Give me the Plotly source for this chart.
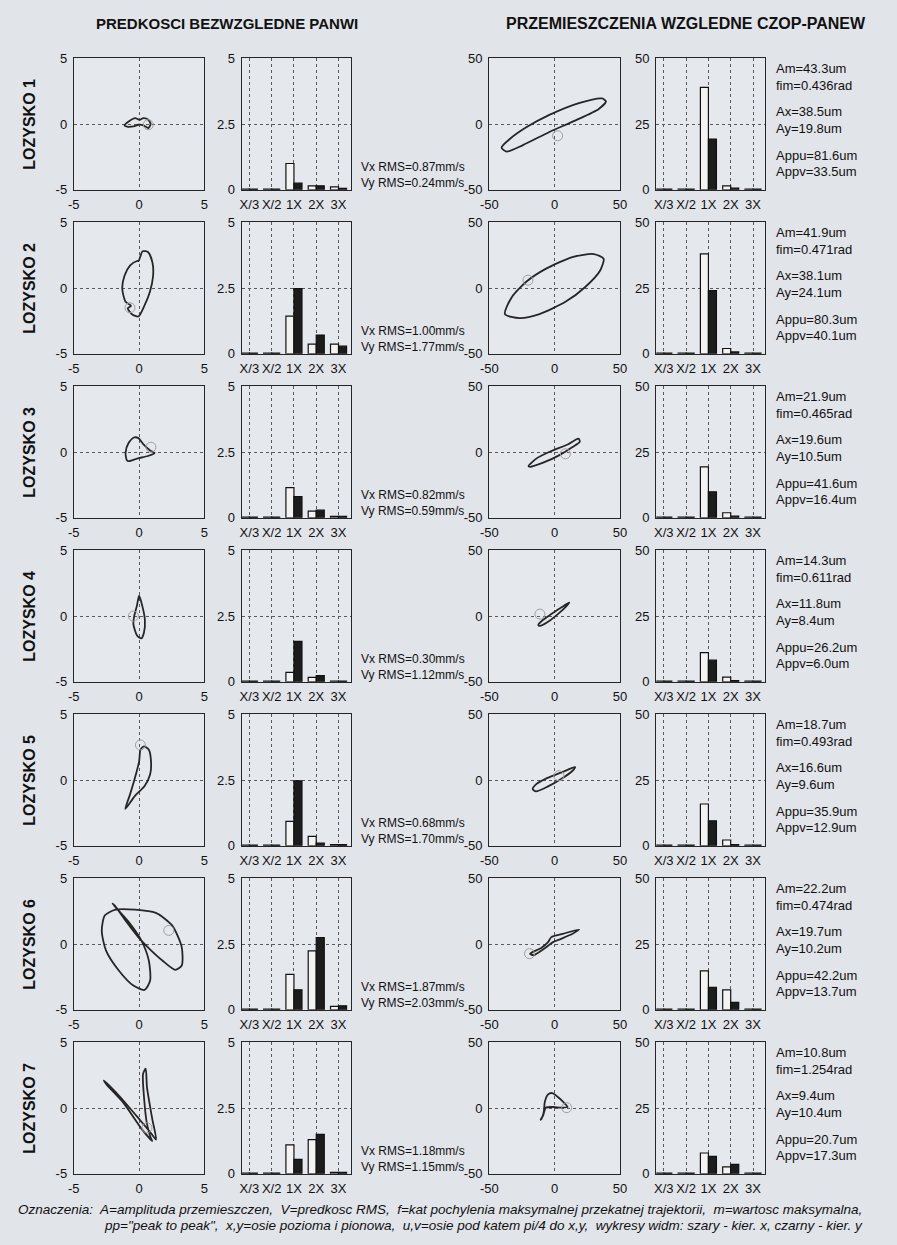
import plotly.graph_objects as go

W, H = 897, 1245

# ---------------- DATA ----------------
rows = ["LOZYSKO 1", "LOZYSKO 2", "LOZYSKO 3", "LOZYSKO 4", "LOZYSKO 5", "LOZYSKO 6", "LOZYSKO 7"]
categories = ["X/3", "X/2", "1X", "2X", "3X"]

# velocity spectra (mm/s), grey = direction x, black = direction y
vel_x = [
    [0.03, 0.03, 1.00, 0.15, 0.11],
    [0.03, 0.03, 1.43, 0.37, 0.37],
    [0.03, 0.03, 1.15, 0.25, 0.05],
    [0.03, 0.03, 0.36, 0.17, 0.03],
    [0.03, 0.03, 0.93, 0.36, 0.04],
    [0.03, 0.03, 1.35, 2.24, 0.13],
    [0.03, 0.03, 1.10, 1.30, 0.05],
]
vel_y = [
    [0.03, 0.03, 0.25, 0.15, 0.05],
    [0.03, 0.03, 2.48, 0.71, 0.29],
    [0.03, 0.03, 0.81, 0.29, 0.05],
    [0.03, 0.03, 1.54, 0.23, 0.03],
    [0.03, 0.03, 2.47, 0.10, 0.04],
    [0.03, 0.03, 0.76, 2.75, 0.15],
    [0.03, 0.03, 0.55, 1.50, 0.05],
]
# displacement spectra (um)
disp_x = [
    [0.3, 0.3, 39.0, 1.5, 0.3],
    [0.3, 0.3, 38.0, 2.0, 0.3],
    [0.3, 0.3, 19.4, 1.9, 0.3],
    [0.3, 0.3, 11.1, 1.8, 0.3],
    [0.3, 0.3, 15.9, 2.2, 0.3],
    [0.3, 0.3, 14.8, 7.6, 0.3],
    [0.3, 0.3, 7.9, 2.6, 0.3],
]
disp_y = [
    [0.3, 0.3, 19.3, 0.6, 0.3],
    [0.3, 0.3, 24.0, 0.7, 0.3],
    [0.3, 0.3, 9.9, 0.6, 0.3],
    [0.3, 0.3, 8.2, 0.4, 0.3],
    [0.3, 0.3, 9.5, 0.4, 0.3],
    [0.3, 0.3, 8.5, 2.8, 0.3],
    [0.3, 0.3, 6.6, 3.6, 0.3],
]

vx_rms = [0.87, 1.00, 0.82, 0.30, 0.68, 1.87, 1.18]
vy_rms = [0.24, 1.77, 0.59, 1.12, 1.70, 2.03, 1.15]
am = [43.3, 41.9, 21.9, 14.3, 18.7, 22.2, 10.8]
fim = [0.436, 0.471, 0.465, 0.611, 0.493, 0.474, 1.254]
ax_amp = [38.5, 38.1, 19.6, 11.8, 16.6, 19.7, 9.4]
ay_amp = [19.8, 24.1, 10.5, 8.4, 9.6, 10.2, 10.4]
appu = [81.6, 80.3, 41.6, 26.2, 35.9, 42.2, 20.7]
appv = [33.5, 40.1, 16.4, 6.0, 12.9, 13.7, 17.3]

# velocity orbits (mm/s)
vorb_x = [
    [-1.12, -0.8, -0.3, 0.03, 0.33, 0.7, 0.88, 0.7, 0.33, -0.05, -0.42, -0.92],
    [-0.05, 0.27, 0.69, 1.02, 1.07, 0.82, 0.37, -0.05, -0.55, -0.87, -0.62, -1.04, -1.29, -1.12, -0.67, -0.17],
    [-0.94, -1.04, -0.81, -0.4, -0.05, 0.3, 0.84, 1.19, 0.67, -0.15, -0.79],
    [0.0, 0.25, 0.44, 0.37, 0.17, -0.15, -0.44, -0.37, -0.17],
    [-1.06, -0.32, 0.42, 0.84, 0.91, 0.74, 0.37, 0.1, 0.0, -0.32, -0.69],
    [-2.05, -0.69, 0.17, 0.74, 0.84, 0.42, -0.44, -1.56, -2.54, -2.86, -2.62, -1.8, -0.32, 1.28, 2.52,
     3.26, 3.26, 2.77, 1.78, 0.79, -0.07, -1.06, -1.88],
    [-2.7, -1.5, -0.2, 0.9, 1.3, 1.0, 0.6, 0.5, 0.3, 0.4, 0.6, 0.9, 1.0, 0.2, -1.2, -2.5],
]
vorb_y = [
    [-0.1, 0.2, 0.45, 0.33, 0.45, 0.33, 0.0, -0.3, -0.1, -0.05, -0.18, -0.2],
    [2.06, 2.8, 2.73, 1.94, 0.94, -0.3, -1.41, -2.16, -1.99, -1.54, -1.34, -1.04, -0.05, 0.94, 1.74, 2.06],
    [-0.62, -0.05, 0.69, 1.11, 1.06, 0.62, 0.12, -0.07, -0.3, -0.49, -0.69],
    [1.55, 0.74, -0.28, -1.25, -1.7, -1.5, -0.61, 0.03, 0.79],
    [-2.2, -1.2, -0.45, 0.42, 1.42, 2.3, 2.57, 2.3, 1.42, 0.17, -1.07],
    [3.08, 1.55, 0.28, -1.25, -2.77, -3.49, -3.16, -2.01, -0.48, 1.04, 2.19, 2.62, 2.62, 2.37, 1.42,
     -0.23, -1.63, -1.96, -1.25, -0.36, 0.53, 1.81, 2.95],
    [2.1, 0.9, -0.6, -1.9, -2.4, -0.8, 1.6, 3.0, 2.6, 0.5, -1.2, -2.3, -2.5, -1.6, 0.4, 1.8],
]
vmark_x = [0.7, -0.7, 0.9, -0.44, 0.1, 2.27, 0.6]
vmark_y = [-0.05, -1.5, 0.37, 0.0, 2.67, 1.04, -1.5]

# displacement orbits (um)
dorb_x = [
    [-40.6, -34.3, -21.7, -4.0, 18.6, 36.3, 39.3, 33.8, 16.1, -4.0, -24.2, -36.8],
    [-38.0, -33.0, -21.7, -6.5, 13.6, 30.0, 37.5, 35.0, 23.7, 8.6, -11.6, -26.7],
    [-20.0, -13.75, -2.5, 10.0, 18.3, 19.3, 13.75, 3.75, -8.75, -18.75],
    [-12.5, -8.75, -2.5, 5.0, 11.25, 9.25, 2.5, -5.0, -11.25],
    [-16.75, -14.25, -6.25, 6.25, 15.75, 13.75, 5.0, -5.0, -14.25],
    [-18.75, -10.0, -5.0, -2.5, 6.25, 18.75, 13.75, 5.0, -1.25, -6.25, -16.25],
    [-10.0, -8.25, -7.5, -5.0, -1.75, 2.5, 7.5, 10.0, 5.0, -1.25, -6.75, -8.75, -10.75],
]
dorb_y = [
    [-17.8, -11.4, -2.5, 7.0, 16.0, 19.5, 17.3, 11.5, 2.8, -6.0, -16.0, -21.0],
    [-19.8, -7.3, 4.8, 14.8, 23.6, 25.9, 22.4, 13.6, 1.0, -10.3, -19.8, -22.9],
    [-10.7, -4.8, 0.8, 5.8, 10.2, 7.9, 3.8, -2.3, -8.1, -11.2],
    [-6.8, -2.8, 1.5, 6.5, 10.3, 7.8, 1.5, -4.3, -7.5],
    [-6.9, -3.3, 1.3, 6.3, 9.9, 7.1, 0.8, -4.8, -8.6],
    [-7.3, -2.8, 1.5, 5.3, 7.8, 11.1, 7.8, 4.0, 1.5, -2.3, -8.5],
    [-8.1, -3.0, 4.6, 10.4, 11.4, 8.4, 3.8, 0.8, 0.3, 0.8, 0.3, -5.6, -8.9],
]
dmark_x = [2.3, -20.4, 8.25, -11.25, 3.25, -19.25, 9.25]
dmark_y = [-8.9, 6.0, -1.3, 1.5, 3.3, -7.3, 0.3]

# ---------------- LAYOUT ----------------
col_px = [(66, 199), (237, 348), (489, 622), (659, 770)]
row_top0, row_pitch, box_h = 52, 166, 133

PAPER = "#e1e4e9"
PLOT = "#e5e8ed"
LINE = "#262626"
GRID = "#5a5a5a"
FONT = "Liberation Sans, Arial"

fig = go.Figure()
layout = {}


def xd(a, b):
    return [a / W, b / W]


def yd(top, bot):
    return [1 - bot / H, 1 - top / H]


def axis_common():
    return dict(showline=True, mirror=True, linecolor=LINE, linewidth=1.2,
                showgrid=True, gridcolor=GRID, griddash="dot", gridwidth=1,
                zeroline=False, ticks="", fixedrange=True, ticklabelstandoff=3,
                tickfont=dict(family=FONT, size=13, color="#111"))


for r in range(7):
    top = row_top0 + r * row_pitch
    for p in range(4):
        k = r * 4 + p + 1
        xn = "x" if k == 1 else f"x{k}"
        yn = "y" if k == 1 else f"y{k}"
        xkey = "xaxis" if k == 1 else f"xaxis{k}"
        ykey = "yaxis" if k == 1 else f"yaxis{k}"
        xa = axis_common()
        ya = axis_common()
        xa.update(domain=xd(*col_px[p]), anchor=yn)
        ya.update(domain=yd(top, top + box_h), anchor=xn)
        if p == 0:
            xa.update(range=[-5, 5], tickvals=[-5, 0, 5], ticktext=["-5", "0", "5"])
            ya.update(range=[-5, 5], tickvals=[-5, 0, 5], ticktext=["-5", "0", "5"])
            fig.add_trace(go.Scatter(x=vorb_x[r] + [vorb_x[r][0]], y=vorb_y[r] + [vorb_y[r][0]],
                                     mode="lines", line=dict(color=LINE, width=1.8, shape="spline", smoothing=0.7),
                                     xaxis=xn, yaxis=yn, showlegend=False, hoverinfo="skip"))
            fig.add_trace(go.Scatter(x=[vmark_x[r]], y=[vmark_y[r]], mode="markers",
                                     marker=dict(symbol="circle-open", size=10, color="#a0a0a0", line=dict(width=1)),
                                     xaxis=xn, yaxis=yn, showlegend=False, hoverinfo="skip"))
        elif p == 2:
            xa.update(range=[-50, 50], tickvals=[-50, 0, 50], ticktext=["-50", "0", "50"])
            ya.update(range=[-50, 50], tickvals=[-50, 0, 50], ticktext=["-50", "0", "50"])
            fig.add_trace(go.Scatter(x=dorb_x[r] + [dorb_x[r][0]], y=dorb_y[r] + [dorb_y[r][0]],
                                     mode="lines", line=dict(color=LINE, width=1.8, shape="spline", smoothing=0.7),
                                     xaxis=xn, yaxis=yn, showlegend=False, hoverinfo="skip"))
            fig.add_trace(go.Scatter(x=[dmark_x[r]], y=[dmark_y[r]], mode="markers",
                                     marker=dict(symbol="circle-open", size=10, color="#a0a0a0", line=dict(width=1)),
                                     xaxis=xn, yaxis=yn, showlegend=False, hoverinfo="skip"))
        else:
            gx = vel_x[r] if p == 1 else disp_x[r]
            gy = vel_y[r] if p == 1 else disp_y[r]
            ymax = 5 if p == 1 else 50
            xa.update(type="category", range=[-0.34, 4.55], categoryorder="array", categoryarray=categories)
            ya.update(range=[0, ymax], tickvals=[0, ymax / 2, ymax],
                      ticktext=["0", "2.5", "5"] if p == 1 else ["0", "25", "50"])
            fig.add_trace(go.Bar(x=categories, y=gx, marker=dict(color="#f3f3f3", line=dict(color="#111", width=1.2)),
                                 xaxis=xn, yaxis=yn, showlegend=False, hoverinfo="skip"))
            fig.add_trace(go.Bar(x=categories, y=gy, marker=dict(color="#1c1c1c", line=dict(color="#111", width=1.2)),
                                 xaxis=xn, yaxis=yn, showlegend=False, hoverinfo="skip"))
        layout[xkey] = xa
        layout[ykey] = ya

annotations = []


def ann(text, px, py, size=13, bold=False, italic=False, xanchor="left", angle=0, family=FONT):
    t = text
    if bold:
        t = f"<b>{t}</b>"
    if italic:
        t = f"<i>{t}</i>"
    annotations.append(dict(text=t, x=px / W, y=1 - py / H, xref="paper", yref="paper",
                            xanchor=xanchor, yanchor="middle", showarrow=False, textangle=angle,
                            borderpad=0, font=dict(family=family, size=size, color="#111")))


ann("PREDKOSCI BEZWZGLEDNE PANWI", 222, 17, size=15, bold=True, xanchor="center")
ann("PRZEMIESZCZENIA WZGLEDNE CZOP-PANEW", 689, 17, size=16, bold=True, xanchor="center")

for r in range(7):
    top = row_top0 + r * row_pitch
    ann(rows[r], 20, top + box_h / 2, size=16, bold=True, xanchor="center", angle=-90)
    ann(f"Vx RMS={vx_rms[r]:.2f}mm/s", 357, top + 110, size=12)
    ann(f"Vy RMS={vy_rms[r]:.2f}mm/s", 357, top + 126, size=12)
    ann(f"Am={am[r]:.1f}um", 780, top + 10)
    ann(f"fim={fim[r]:.3f}rad", 780, top + 27)
    ann(f"Ax={ax_amp[r]:.1f}um", 780, top + 54)
    ann(f"Ay={ay_amp[r]:.1f}um", 780, top + 71)
    ann(f"Appu={appu[r]:.1f}um", 780, top + 98)
    ann(f"Appv={appv[r]:.1f}um", 780, top + 115)

ann("Oznaczenia:  A=amplituda przemieszczen,  V=predkosc RMS,  f=kat pochylenia maksymalnej przekatnej trajektorii,  m=wartosc maksymalna,",
    8, 1217, size=13.5, italic=True)
ann("pp=\"peak to peak\",  x,y=osie pozioma i pionowa,  u,v=osie pod katem pi/4 do x,y,  wykresy widm: szary - kier. x, czarny - kier. y",
    96, 1233, size=13.5, italic=True)

fig.update_layout(width=W, height=H, margin=dict(l=0, r=0, t=0, b=0),
                  paper_bgcolor=PAPER, plot_bgcolor=PLOT, barmode="group", bargap=0.28, bargroupgap=0.0,
                  annotations=annotations, showlegend=False, **layout)

fig.write_html("out.html", config={"displayModeBar": False},
               post_script="document.body.style.margin='0';document.body.style.overflow='hidden';"
                           "document.body.style.background='" + PAPER + "';")
